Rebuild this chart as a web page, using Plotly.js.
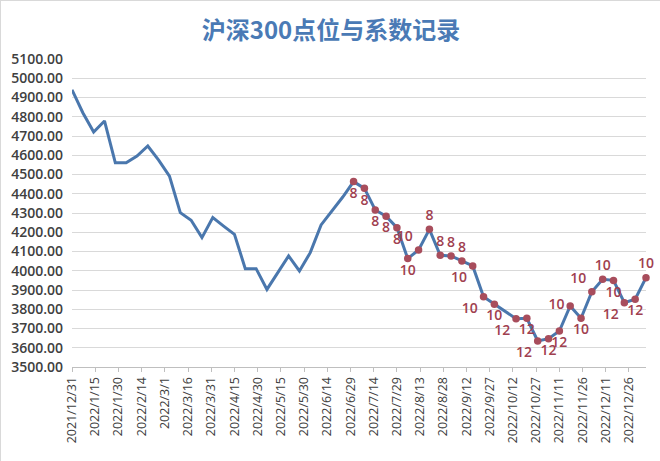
<!DOCTYPE html>
<html>
<head>
<meta charset="utf-8">
<script src="https://cdn.plot.ly/plotly-3.0.1.min.js"></script>
<style>
html,body{margin:0;padding:0;background:#fff;}
#chart{width:660px;height:461px;box-sizing:border-box;border:1px solid #d9d9d9;}
</style>
</head>
<body>
<div id="chart"></div>
<script>
// Weekly dates (first part: line only)
const datesA = ['2021-12-31','2022-01-07','2022-01-14','2022-01-21','2022-01-28','2022-02-04','2022-02-11','2022-02-18','2022-02-25','2022-03-04','2022-03-11','2022-03-18','2022-03-25','2022-04-01','2022-04-08','2022-04-15','2022-04-22','2022-04-29','2022-05-06','2022-05-13','2022-05-20','2022-05-27','2022-06-03','2022-06-10','2022-06-17','2022-06-24'];
const valuesA = [4940,4821,4721,4778,4561,4561,4596,4648,4575,4492,4302,4262,4172,4276,4232,4189,4011,4011,3903,3990,4077,3999,4094,4238,4310,4383];
// Second part: with markers and coefficient labels
const datesB = ['2022-07-01','2022-07-08','2022-07-15','2022-07-22','2022-07-29','2022-08-05','2022-08-12','2022-08-19','2022-08-26','2022-09-02','2022-09-09','2022-09-16','2022-09-23','2022-09-30','2022-10-14','2022-10-21','2022-10-28','2022-11-04','2022-11-11','2022-11-18','2022-11-25','2022-12-02','2022-12-09','2022-12-16','2022-12-23','2022-12-30','2023-01-06'];
const valuesB = [4463,4428,4316,4283,4224,4063,4108,4215,4080,4077,4051,4025,3865,3826,3751,3753,3635,3647,3687,3817,3753,3891,3956,3950,3834,3852,3964];
const coefB = [8,8,8,8,8,10,10,8,8,8,8,10,10,10,12,12,12,12,12,10,10,10,10,10,12,12,10];
const labelPos = ['bottom center','bottom center','bottom center','bottom center','bottom center','bottom center','top left','top center','top center','top center','top center','bottom left','bottom left','bottom center','bottom left','bottom center','bottom left','bottom center','bottom center','middle left','bottom center','top left','top center','bottom center','bottom left','bottom center','top center'];
// Tick labels every 15 days
const tickDates = ['2021-12-31','2022-01-15','2022-01-30','2022-02-14','2022-03-01','2022-03-16','2022-03-31','2022-04-15','2022-04-30','2022-05-15','2022-05-30','2022-06-14','2022-06-29','2022-07-14','2022-07-29','2022-08-13','2022-08-28','2022-09-12','2022-09-27','2022-10-12','2022-10-27','2022-11-11','2022-11-26','2022-12-11','2022-12-26'];
const tickText = ['2021/12/31','2022/1/15','2022/1/30','2022/2/14','2022/3/1','2022/3/16','2022/3/31','2022/4/15','2022/4/30','2022/5/15','2022/5/30','2022/6/14','2022/6/29','2022/7/14','2022/7/29','2022/8/13','2022/8/28','2022/9/12','2022/9/27','2022/10/12','2022/10/27','2022/11/11','2022/11/26','2022/12/11','2022/12/26'];
const yTicks = [3500,3600,3700,3800,3900,4000,4100,4200,4300,4400,4500,4600,4700,4800,4900,5000,5100];

const lineTrace = {
  x: datesA.concat(datesB),
  y: valuesA.concat(valuesB),
  type: 'scatter', mode: 'lines',
  line: {color: '#4a77ad', width: 3},
  hoverinfo: 'x+y', showlegend: false
};
const markTrace = {
  x: datesB, y: valuesB,
  type: 'scatter', mode: 'markers+text',
  marker: {color: '#a84d5c', size: 7.5},
  text: coefB.map(String),
  textposition: labelPos,
  textfont: {family: 'Open Sans, Noto Sans, sans-serif', size: 14, color: '#a0404f', weight: 600},
  cliponaxis: false, showlegend: false
};

const layout = {
  width: 660, height: 461,
  margin: {l: 71, r: 15, t: 58, b: 95},
  paper_bgcolor: '#ffffff', plot_bgcolor: '#ffffff',
  title: {text: '沪深300点位与系数记录', x: 0.5, xanchor: 'center', y: 0.935, yanchor: 'middle',
          font: {family: 'Noto Sans CJK SC, sans-serif', size: 24, color: '#4a7ab5', weight: 700}},
  xaxis: {
    type: 'date', range: ['2021-12-31', '2023-01-06'],
    tickmode: 'array', tickvals: tickDates, ticktext: tickText,
    tickangle: -90, ticks: 'outside', ticklen: 4, tickcolor: '#bfbfbf',
    showline: true, linecolor: '#bfbfbf', linewidth: 1, showgrid: false, zeroline: false,
    tickfont: {family: 'Open Sans, Noto Sans, sans-serif', size: 12.5, color: '#404040'}
  },
  yaxis: {
    range: [3500, 5100], tickmode: 'array', tickvals: yTicks,
    ticktext: yTicks.map(v => v.toFixed(2)),
    showgrid: true, gridcolor: '#d9d9d9', gridwidth: 1, zeroline: false, showline: false,
    ticks: '', ticklabelstandoff: 8,
    tickfont: {family: 'Open Sans, Noto Sans, sans-serif', size: 14, color: '#404040', weight: 600}
  }
};
Plotly.newPlot('chart', [lineTrace, markTrace], layout, {displayModeBar: false, staticPlot: true});
</script>
</body>
</html>
